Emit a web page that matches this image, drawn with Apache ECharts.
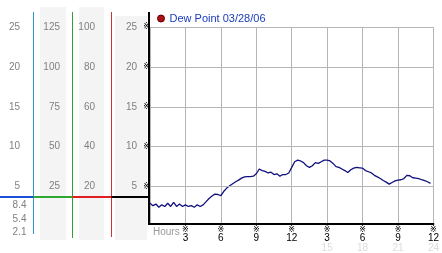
<!DOCTYPE html>
<html><head><meta charset="utf-8">
<script src="https://cdn.jsdelivr.net/npm/echarts@6/dist/echarts.min.js"></script>
<style>html,body{margin:0;padding:0;background:#fff}#c{width:442px;height:253px}</style>
</head><body><div id="c"></div>
<script>
// Dew point (°F) sampled every 15 minutes from 0h to 23.75h
const sampleStepHours = 0.25;
const dewPoint = [
  2.9, 2.6, 2.8, 2.4, 2.7, 2.5, 2.9, 2.5, 3.0, 2.5, 2.8, 2.5, 2.7, 2.5, 2.6, 2.4, 2.7, 2.5, 2.7, 3.1,
  3.5, 3.8, 4.05, 4.0, 3.85, 4.4, 4.8, 5.1, 5.35, 5.6, 5.8, 6.05, 6.2, 6.25, 6.25, 6.3,
  6.6, 7.2, 7.0, 6.9, 6.7, 6.8, 6.5, 6.6, 6.3, 6.5, 6.5, 6.7,
  7.4, 8.1, 8.3, 8.2, 8.0, 7.6, 7.4, 7.6, 8.0, 7.9, 8.1, 8.3,
  8.3, 8.2, 7.9, 7.5, 7.4, 7.2, 7.0, 6.75, 7.1, 7.3, 7.4, 7.35,
  7.3, 7.0, 6.85, 6.7, 6.4, 6.2, 6.0, 5.75, 5.55, 5.3, 5.5, 5.7,
  5.8, 5.85, 6.0, 6.4, 6.35, 6.1, 6.05, 6.0, 5.85, 5.75, 5.6, 5.4
];
const seriesName = 'Dew Point 03/28/06';
const yTicks = [25, 20, 15, 10, 5];
const col1Labels = ['25', '20', '15', '10', '5'];
const col2Labels = ['125', '100', '75', '50', '25'];
const col3Labels = ['100', '80', '60', '40', '20'];
const col4Labels = ['25', '20', '15', '10', '5'];
const lowerLabels = ['8.4', '5.4', '2.1'];
const hourTicks = [3, 6, 9, 12, 15, 18, 21, 24];
const hourLabels = ['3', '6', '9', '12', '3', '6', '9', '12'];
const clockLabels = ['', '', '', '', '15', '18', '21', '24'];
const xLabelTitle = 'Hours';

const FONT = 'Liberation Sans';
const chart = echarts.init(document.getElementById('c'), null, {renderer: 'canvas'});
const seriesData = dewPoint.map((v, i) => [i * sampleStepHours, v]);

chart.setOption({
  animation: false,
  textStyle: {fontFamily: FONT},
  grid: {left: 150, right: 3, top: 27, bottom: 29},
  legend: {
    left: 152, top: 8, icon: 'circle', itemWidth: 7, itemHeight: 7,
    data: [{name: seriesName, itemStyle: {color: '#b01010', borderColor: '#5a0000', borderWidth: 1}}],
    textStyle: {color: '#1a3cc0', fontSize: 11, fontFamily: FONT}
  },
  xAxis: {
    type: 'value', min: 0, max: 24, interval: 3,
    axisLine: {lineStyle: {color: '#000', width: 2}},
    axisTick: {show: false},
    splitLine: {lineStyle: {color: '#b5b5b5', width: 1}},
    axisLabel: {
      margin: 2,
      formatter: function (v) {
        const i = hourTicks.indexOf(v);
        if (i < 0) return '';
        let s = '{m|※}\n{n|' + hourLabels[i] + '}';
        if (clockLabels[i]) s += '\n{g|' + clockLabels[i] + '}';
        return s;
      },
      rich: {
        m: {fontSize: 8, lineHeight: 7, color: '#000', fontFamily: 'DejaVu Sans'},
        n: {fontSize: 10, lineHeight: 10, color: '#000', fontFamily: FONT},
        g: {fontSize: 10, lineHeight: 10, color: '#dcdcdc', fontFamily: FONT}
      }
    }
  },
  yAxis: {
    type: 'value', min: 0.3, max: 25,
    axisLine: {show: false}, axisTick: {show: false},
    axisLabel: {show: false}, splitLine: {show: false}
  },
  series: [{
    name: seriesName, type: 'line', data: seriesData,
    showSymbol: false, symbol: 'none',
    lineStyle: {color: '#10107e', width: 1.3},
    itemStyle: {color: '#10107e'},
    markLine: {
      silent: true, symbol: 'none', animation: false,
      lineStyle: {color: '#b5b5b5', type: 'solid', width: 1},
      label: {position: 'start', formatter: '※', fontSize: 8, distance: 0, color: '#000', fontFamily: 'DejaVu Sans'},
      emphasis: {disabled: true},
      data: yTicks.map(v => ({yAxis: v}))
    }
  }]
});

const g = [];
// gray bands
g.push({type: 'rect', z: -10, shape: {x: 40, y: 7, width: 26, height: 233}, style: {fill: '#f4f4f4'}});
g.push({type: 'rect', z: -10, shape: {x: 79, y: 7, width: 25, height: 233}, style: {fill: '#f4f4f4'}});
g.push({type: 'rect', z: -10, shape: {x: 115, y: 16, width: 32, height: 224}, style: {fill: '#f4f4f4'}});
// vertical scale lines
function vline(x, y1, y2, color, w) {
  g.push({type: 'line', shape: {x1: x, y1: y1, x2: x, y2: y2}, style: {stroke: color, lineWidth: w}, z: 5});
}
vline(33.5, 12, 234, '#3399cc', 1);
vline(72.5, 12, 238, '#33a033', 1);
vline(111.5, 12, 237, '#cc3333', 1);
vline(149, 12, 225, '#000', 2);
// colored horizontal reference line
function hline(x1, x2, color) {
  g.push({type: 'line', shape: {x1: x1, y1: 197, x2: x2, y2: 197}, style: {stroke: color, lineWidth: 2}, z: 6});
}
hline(0, 33.5, '#1a4fd8');
hline(33.5, 72.5, '#2fa82f');
hline(72.5, 111.5, '#e02020');
hline(111.5, 150, '#000');
// column labels, positioned through the y scale
function txt(x, y, s, color, align) {
  g.push({type: 'text', x: x, y: y, z: 7, style: {text: s, fill: color, font: '10px "' + FONT + '"', textAlign: align || 'right', textVerticalAlign: 'middle'}});
}
yTicks.forEach((v, i) => {
  const y = chart.convertToPixel({yAxisIndex: 0}, v);
  txt(20, y, col1Labels[i], '#808080');
  txt(60, y, col2Labels[i], '#808080');
  txt(95, y, col3Labels[i], '#808080');
  txt(137, y, col4Labels[i], '#808080');
});
const lowerY = [205, 219, 232.5];
lowerLabels.forEach((s, i) => txt(26.5, lowerY[i], s, '#808080'));
txt(153, 232, xLabelTitle, '#999999', 'left');
chart.setOption({graphic: g});
</script>
</body></html>
